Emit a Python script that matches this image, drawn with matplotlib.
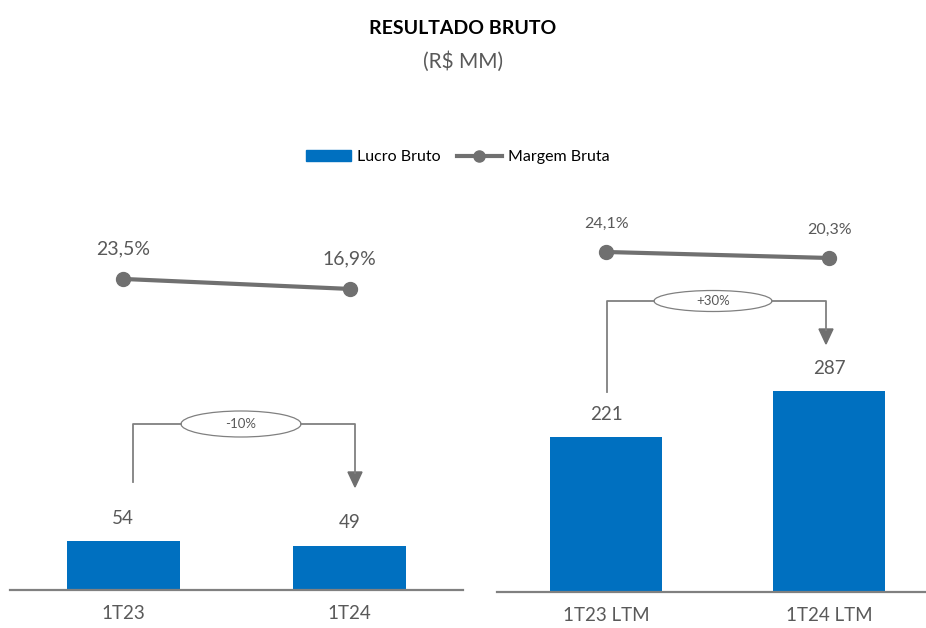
import matplotlib
matplotlib.use("Agg")
import matplotlib.pyplot as plt
from matplotlib.patches import Ellipse, Polygon
from matplotlib.lines import Line2D

plt.rcParams['font.family'] = ['Lato', 'DejaVu Sans']

# data
cats_q = ["1T23", "1T24"]
lucro_q = [54, 49]
margem_q = [23.5, 16.9]
margem_q_lbl = ["23,5%", "16,9%"]
var_q = "-10%"

cats_ltm = ["1T23 LTM", "1T24 LTM"]
lucro_ltm = [221, 287]
margem_ltm = [24.1, 20.3]
margem_ltm_lbl = ["24,1%", "20,3%"]
var_ltm = "+30%"

BLUE = "#0070C0"
GREY = "#707070"
TXT = "#595959"
W, H = 926, 628


def px_box(x0, x1, ytop, ybot):
    return [x0 / W, 1 - ybot / H, (x1 - x0) / W, (ybot - ytop) / H]


def panel(fig, box, cats, vals, marg, marg_lbl, xlim, ylim, ylim2, pct_size, pct_off):
    ax = fig.add_axes(box)
    x = list(range(len(cats)))
    ax.bar(x, vals, width=0.5, color=BLUE, zorder=2)
    ax.set_xlim(*xlim)
    ax.set_ylim(*ylim)
    for s in ["top", "left", "right"]:
        ax.spines[s].set_visible(False)
    ax.spines["bottom"].set_color("#808080")
    ax.spines["bottom"].set_linewidth(1.6)
    ax.set_yticks([])
    ax.set_xticks(x)
    ax.set_xticklabels(cats, fontsize=13.5, color=TXT)
    ax.tick_params(axis="x", length=0, pad=11)
    for xi, v in zip(x, vals):
        ax.annotate(str(v), (xi, v), xytext=(0, 16.5), textcoords="offset points",
                    ha="center", va="center", fontsize=13.5, color=TXT)
    ax.patch.set_alpha(0)

    ax2 = ax.twinx()
    ax2.plot(x, marg, color=GREY, lw=3, marker="o", ms=10, zorder=3)
    ax2.set_ylim(*ylim2)
    ax2.axis("off")
    for xi, v, l in zip(x, marg, marg_lbl):
        ax2.annotate(l, (xi, v), xytext=(0, pct_off), textcoords="offset points",
                     ha="center", va="center", fontsize=pct_size, color=TXT)
    return ax


fig = plt.figure(figsize=(W / 100, H / 100), dpi=100)

panel(fig, px_box(10, 463, 130, 590), cats_q, lucro_q, margem_q, margem_q_lbl,
      (-0.5, 1.5), (0, 511), (-181.8, 121.8), 14, 22)
panel(fig, px_box(497, 926, 130, 592), cats_ltm, lucro_ltm, margem_ltm, margem_ltm_lbl,
      (-0.49, 1.435), (0, 660), (-191.1, 101.3), 11.5, 20)

# overlay in pixel coords for the variation arrows
ov = fig.add_axes([0, 0, 1, 1])
ov.set_xlim(0, W)
ov.set_ylim(H, 0)
ov.axis("off")


def var_arrow(x0, ybot, x1, ytop, tip, ecx, ew, eh, txt):
    c = "#808080"
    ov.plot([x0, x0, ecx - ew / 2], [ybot, ytop, ytop], color=c, lw=1.3)
    ov.plot([ecx + ew / 2, x1, x1], [ytop, ytop, tip - 14], color=c, lw=1.3)
    ov.add_patch(Polygon([[x1 - 7, tip - 15], [x1 + 7, tip - 15], [x1, tip]],
                         closed=True, color="#6f6f6f"))
    ov.add_patch(Ellipse((ecx, ytop), ew, eh, facecolor="white",
                         edgecolor="#808080", lw=0.9))
    ov.text(ecx, ytop, txt, ha="center", va="center", fontsize=9.5, color=TXT)


var_arrow(133, 482, 355, 424, 487, 241, 120, 26, var_q)
var_arrow(607, 392, 826, 301, 344, 713, 118, 21, var_ltm)

# titles
fig.text(0.5, 1 - 28 / H, "RESULTADO BRUTO", ha="center", va="center", fontsize=14,
         fontweight="bold", color="black")
fig.text(0.5, 1 - 62 / H, "(R$ MM)", ha="center", va="center", fontsize=15, color=TXT)

handles = [plt.Rectangle((0, 0), 1, 1, color=BLUE),
           Line2D([], [], color=GREY, lw=3, marker="o", ms=8)]
fig.legend(handles, ["Lucro Bruto", "Margem Bruta"], loc="center", ncol=2,
           bbox_to_anchor=(458 / W, 1 - 157 / H), frameon=False, fontsize=11.5,
           handlelength=2.8, handletextpad=0.4, columnspacing=1.0,
           labelcolor="black")

fig.savefig("out.png", dpi=100)
